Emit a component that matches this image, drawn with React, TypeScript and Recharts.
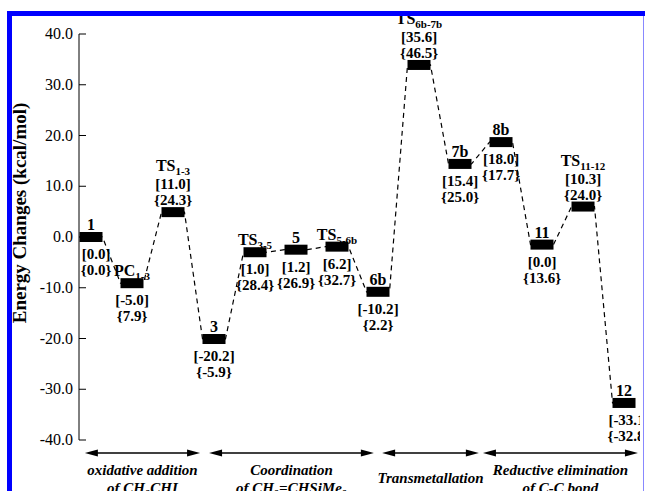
import React from 'react';
import { ComposedChart, Line, Scatter, XAxis, YAxis, ReferenceLine } from 'recharts';

// energy profile
const levelNames = ['1', 'PC', 'TS', '3', 'TS', '5', 'TS', '6b', 'TS', '7b', '8b', '11', 'TS', '12'];
const levelSubs = ['', '1-3', '1-3', '', '3-5', '', '5-6b', '', '6b-7b', '', '', '', '11-12', ''];
// height where each black bar is drawn
const levelPlot = [0, -9.1, 4.9, -20.1, -3.0, -2.5, -1.9, -10.8, 33.9, 14.4, 18.7, -1.5, 6.0, -32.7];
// [ ] values
const energyE = [0.0, -5.0, 11.0, -20.2, 1.0, 1.2, 6.2, -10.2, 35.6, 15.4, 18.0, 0.0, 10.3, -33.1];
// { } values
const energyG = [0.0, 7.9, 24.3, -5.9, 28.4, 26.9, 32.7, 2.2, 46.5, 25.0, 17.7, 13.6, 24.0, -32.8];
const labelsAbove = [false, false, true, false, false, false, false, false, true, false, false, false, true, false];

const yTicks = [40, 30, 20, 10, 0, -10, -20, -30, -40];

const stageTitles = ['oxidative addition', 'Coordination', 'Transmetallation', 'Reductive elimination'];
const stageSubs = ['of CH\u2082CHI', 'of CH\u2082=CHSiMe\u2083', '', 'of C-C bond'];
const stageFrom = [-0.15, 2.88, 7.1, 9.56];
const stageTo = [2.66, 6.9, 9.46, 13.34];

const HALF = 0.28;
const SERIF = '"Liberation Serif", "Times New Roman", serif';

const levels = levelPlot.map((v, i) => ({
  x: i,
  y: v,
  name: levelNames[i],
  sub: levelSubs[i],
  e: energyE[i],
  g: energyG[i],
  above: labelsAbove[i],
}));

// left/right end of every bar so the dashes run end to end
const path = levels.flatMap((d) => [
  { x: d.x - HALF, y: d.y },
  { x: d.x + HALF, y: d.y },
]);

const valueDx = (i: number) => (i === 0 ? 5 : i === levels.length - 1 ? 5 : 0);

const LevelShape = (props: any) => {
  const { cx, cy, payload } = props;
  const i = payload.x;
  const t = { fontFamily: SERIF, fontWeight: 700, fill: '#000' };
  const nameY = payload.above ? cy - 41 : cy - 7;
  const eY = payload.above ? cy - 23 : cy + 22;
  const gY = payload.above ? cy - 7 : cy + 38;
  const vx = cx + valueDx(i);
  return (
    <g>
      <rect x={cx - 11.5} y={cy - 5} width={23} height={10} fill="#000" />
      <text x={cx} y={nameY} textAnchor="middle" fontSize={16} {...t}>
        {payload.name}
        {payload.sub && (
          <tspan fontSize={11} dy={4}>
            {payload.sub}
          </tspan>
        )}
      </text>
      <text x={vx} y={eY} textAnchor="middle" fontSize={15} {...t}>
        [{payload.e.toFixed(1)}]
      </text>
      <text x={vx} y={gY} textAnchor="middle" fontSize={15} {...t}>
        {'{'}
        {payload.g.toFixed(1)}
        {'}'}
      </text>
    </g>
  );
};

const YTick = ({ x, y, payload }: any) => (
  <g>
    <line x1={x} x2={x + 7} y1={y} y2={y} stroke="#000" />
    <text x={x - 6} y={y} dy={5} textAnchor="end" fontSize={16} fontFamily={SERIF} fill="#000">
      {payload.value.toFixed(1)}
    </text>
  </g>
);

const stageShape = (k: number) => (p: any) => {
  const { x1, x2, y1 } = p;
  const mid = (x1 + x2) / 2;
  const t = { fontFamily: SERIF, fontWeight: 700, fontStyle: 'italic', fontSize: 15, fill: '#000' };
  return (
    <g>
      <line x1={x1 + 8} x2={x2 - 8} y1={y1} y2={y1} stroke="#000" strokeWidth={1.5} />
      <polygon points={`${x1},${y1} ${x1 + 13},${y1 - 3.5} ${x1 + 13},${y1 + 3.5}`} fill="#000" />
      <polygon points={`${x2},${y1} ${x2 - 13},${y1 - 3.5} ${x2 - 13},${y1 + 3.5}`} fill="#000" />
      {stageSubs[k] ? (
        <>
          <text x={mid} y={y1 + 22} textAnchor="middle" {...t}>
            {stageTitles[k]}
          </text>
          <text x={mid} y={y1 + 40} textAnchor="middle" {...t}>
            {stageSubs[k]}
          </text>
        </>
      ) : (
        <text x={mid} y={y1 + 30} textAnchor="middle" {...t}>
          {stageTitles[k]}
        </text>
      )}
    </g>
  );
};

export default function App() {
  return (
    <div style={{ position: 'absolute', left: 0, top: 0, width: 645, height: 491, background: '#fff', overflow: 'hidden' }}>
      <ComposedChart width={645} height={491} margin={{ top: 34, right: 5, bottom: 51, left: 0 }}>
        <XAxis type="number" dataKey="x" domain={[-0.2927, 13.39]} hide allowDataOverflow />
        <YAxis
          type="number"
          dataKey="y"
          domain={[-40, 40]}
          ticks={yTicks}
          width={79}
          tickLine={false}
          tickSize={0}
          tickMargin={0}
          tick={<YTick />}
          axisLine={{ stroke: '#000', strokeWidth: 1 }}
          interval={0}
        />
        <Line
          data={path}
          dataKey="y"
          type="linear"
          stroke="#000"
          strokeWidth={1.2}
          strokeDasharray="5 4"
          dot={false}
          activeDot={false}
          isAnimationActive={false}
        />
        <Scatter data={levels} dataKey="y" shape={LevelShape} isAnimationActive={false} />
        {stageFrom.map((f, k) => (
          <ReferenceLine
            key={k}
            segment={[
              { x: f, y: -42.56 },
              { x: stageTo[k], y: -42.56 },
            ]}
            ifOverflow="visible"
            shape={stageShape(k)}
          />
        ))}
      </ComposedChart>
      <svg width={645} height={491} style={{ position: 'absolute', left: 0, top: 0, pointerEvents: 'none' }}>
        <text
          transform="translate(26,213) rotate(-90)"
          textAnchor="middle"
          fontFamily={SERIF}
          fontWeight={700}
          fontSize={19}
          fill="#000"
        >
          Energy Changes (kcal/mol)
        </text>
        <rect x={7} y={11} width={5} height={480} fill="#0000ff" />
        <rect x={7} y={11} width={638} height={5} fill="#0000ff" />
        <rect x={643} y={16} width={1} height={475} fill="#8888ff" />
      </svg>
    </div>
  );
}
